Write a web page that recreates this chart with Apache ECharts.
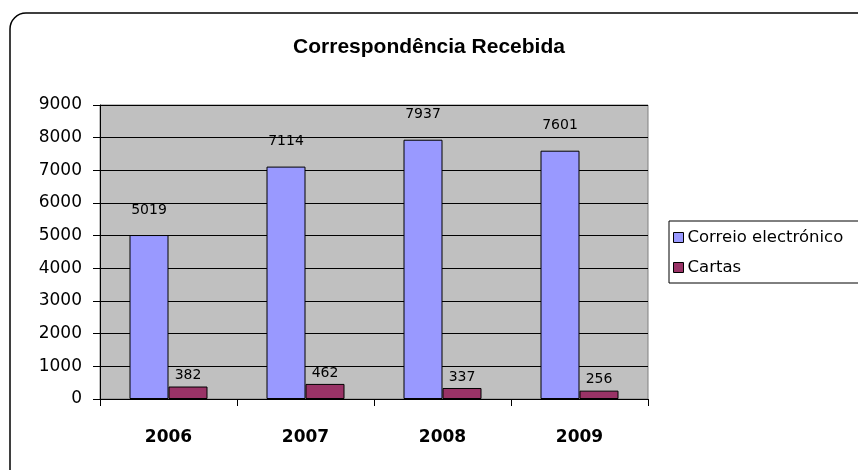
<!DOCTYPE html>
<html>
<head>
<meta charset="utf-8">
<script src="https://cdn.jsdelivr.net/npm/echarts@6/dist/echarts.min.js"></script>
<style>
html,body{margin:0;padding:0;background:#fff;}
#c{width:858px;height:470px;}
</style>
</head>
<body>
<div id="c"></div>
<script>
const titleText = 'Correspondência Recebida';
const categories = ['2006', '2007', '2008', '2009'];
const seriesNames = ['Correio electrónico', 'Cartas'];
const emailValues = [5019, 7114, 7937, 7601];
const letterValues = [382, 462, 337, 256];
const yTicks = [0, 1000, 2000, 3000, 4000, 5000, 6000, 7000, 8000, 9000];

const chart = echarts.init(document.getElementById('c'), null, {renderer: 'canvas'});
chart.setOption({
  animation: false,
  backgroundColor: '#ffffff',
  graphic: [{
    type: 'rect',
    silent: true,
    z: 100,
    shape: {x: 10, y: 13, width: 880, height: 480, r: 16},
    style: {fill: 'none', stroke: '#000', lineWidth: 1.5}
  }],
  title: {
    text: titleText,
    left: 'center',
    top: 32,
    textStyle: {fontFamily: 'Liberation Sans, Arial, sans-serif', fontWeight: 'bold', fontSize: 21, color: '#000'}
  },
  legend: {
    orient: 'vertical',
    left: 669,
    top: 221,
    data: seriesNames,
    icon: 'rect',
    itemWidth: 10,
    itemHeight: 10,
    itemGap: 13,
    padding: [8, 40, 7, 4],
    borderColor: '#000',
    borderWidth: 1,
    backgroundColor: '#fff',
    itemStyle: {borderColor: '#000', borderWidth: 1},
    textStyle: {fontFamily: 'DejaVu Sans, sans-serif', fontSize: 16.5, color: '#000', lineHeight: 17, padding: [0, 0, 0, -1]}
  },
  grid: {
    left: 100, right: 210, top: 105, bottom: 71,
    show: true,
    backgroundColor: '#C0C0C0',
    borderColor: '#808080',
    borderWidth: 1
  },
  xAxis: {
    type: 'category',
    data: categories,
    axisLine: {lineStyle: {color: '#000', width: 1}},
    axisTick: {show: true, length: 7, lineStyle: {color: '#000'}},
    axisLabel: {fontFamily: 'DejaVu Sans, sans-serif', fontWeight: 'bold', fontSize: 17, color: '#000', margin: 30}
  },
  yAxis: {
    type: 'value',
    min: yTicks[0],
    max: yTicks[yTicks.length - 1],
    interval: 1000,
    axisLine: {show: true, lineStyle: {color: '#000', width: 1}},
    axisTick: {show: true, length: 7, lineStyle: {color: '#000'}},
    splitLine: {show: true, lineStyle: {color: '#000', width: 1}},
    axisLabel: {fontFamily: 'DejaVu Sans, sans-serif', fontSize: 17, color: '#000', margin: 18, formatter: function (v) { return String(v); }}
  },
  series: [{
    name: seriesNames[0],
    type: 'bar',
    data: emailValues,
    barWidth: 39,
    barGap: '0%',
    itemStyle: {color: '#9999FF', borderColor: '#000', borderWidth: 1},
    label: {show: true, position: 'top', distance: 18, color: '#000', fontFamily: 'DejaVu Sans, sans-serif', fontSize: 14}
  }, {
    name: seriesNames[1],
    type: 'bar',
    data: letterValues,
    barWidth: 39,
    itemStyle: {color: '#993366', borderColor: '#000', borderWidth: 1},
    label: {show: true, position: 'top', distance: 4, color: '#000', fontFamily: 'DejaVu Sans, sans-serif', fontSize: 14}
  }]
});
</script>
</body>
</html>
